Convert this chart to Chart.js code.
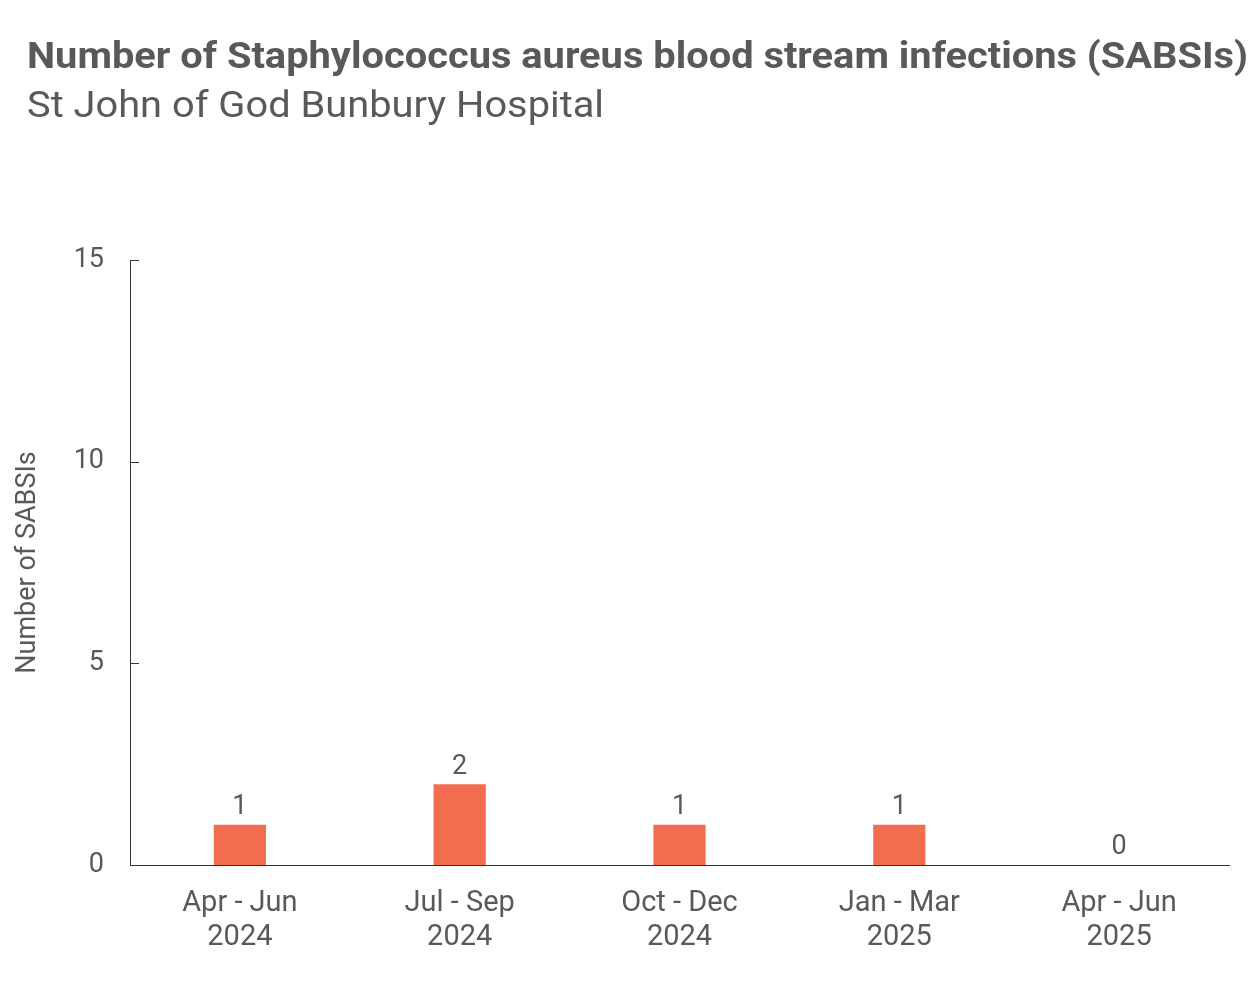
<!DOCTYPE html>
<html><head><meta charset="utf-8">
<script src="https://cdn.jsdelivr.net/npm/chart.js@4/dist/chart.umd.min.js"></script>
<style>html,body{margin:0;padding:0;background:#fff}#wrap{width:1260px;height:981px}</style>
</head><body><div id="wrap"><canvas id="c" width="1260" height="981"></canvas></div>
<script>
const categories = [["Apr - Jun","2024"],["Jul - Sep","2024"],["Oct - Dec","2024"],["Jan - Mar","2025"],["Apr - Jun","2025"]];
const sabsis = [1, 2, 1, 1, 0];
const yTicks = [0, 5, 10, 15];
const titleText = "Number of Staphylococcus aureus blood stream infections (SABSIs)";
const subtitleText = "St John of God Bunbury Hospital";
const yAxisTitle = "Number of SABSIs";

const GREY = '#595959';
const FONT = "Roboto, 'Noto Sans', sans-serif";

function fitText(ctx, text, x, y, targetWidth) {
  const w = ctx.measureText(text).width;
  const sx = targetWidth / w;
  ctx.save();
  ctx.translate(x, y);
  ctx.scale(sx, 1);
  ctx.fillText(text, 0, 0);
  ctx.restore();
}

const headerPlugin = {
  id: 'header',
  afterDraw(chart) {
    const ctx = chart.ctx;
    ctx.save();
    ctx.fillStyle = GREY;
    ctx.textBaseline = 'alphabetic';
    ctx.textAlign = 'left';
    ctx.font = "bold 36px " + FONT;
    fitText(ctx, titleText, 27, 68, 1221);
    ctx.font = "37px " + FONT;
    fitText(ctx, subtitleText, 27, 117, 577);
    ctx.restore();
  }
};

const innerTicks = {
  id: 'innerTicks',
  afterDatasetsDraw(chart) {
    const ctx = chart.ctx, y = chart.scales.y, x0 = chart.chartArea.left;
    ctx.save();
    ctx.strokeStyle = '#333';
    ctx.lineWidth = 1;
    y.ticks.forEach(t => {
      const py = Math.round(y.getPixelForValue(t.value)) + 0.5;
      ctx.beginPath(); ctx.moveTo(x0, py); ctx.lineTo(x0 + 9, py); ctx.stroke();
    });
    ctx.restore();
  }
};

const valueLabels = {
  id: 'valueLabels',
  afterDatasetsDraw(chart) {
    const ctx = chart.ctx;
    const meta = chart.getDatasetMeta(0);
    ctx.save();
    ctx.fillStyle = GREY;
    ctx.font = "27px " + FONT;
    ctx.textAlign = 'center';
    ctx.textBaseline = 'bottom';
    meta.data.forEach((bar, i) => {
      ctx.fillText(String(sabsis[i]), bar.x, bar.y - 4);
    });
    ctx.restore();
  }
};

new Chart(document.getElementById('c'), {
  type: 'bar',
  data: {
    labels: categories,
    datasets: [{
      data: sabsis,
      backgroundColor: '#F26C4F',
      borderWidth: 0,
      barPercentage: 0.95,
      categoryPercentage: 0.25
    }]
  },
  options: {
    responsive: false,
    animation: false,
    devicePixelRatio: 1,
    layout: { padding: { left: 12, top: 260, right: 31, bottom: 0 } },
    plugins: { legend: { display: false }, tooltip: { enabled: false } },
    scales: {
      x: {
        grid: { display: false, drawTicks: false },
        border: { color: '#333', width: 1 },
        ticks: { color: GREY, font: { size: 29, family: FONT, lineHeight: 1.2 }, padding: 21, maxRotation: 0 },
        afterFit(s) { s.height = 116; }
      },
      y: {
        min: 0, max: 15,
        afterBuildTicks(s) { s.ticks = yTicks.map(v => ({ value: v })); },
        grid: { display: false, drawTicks: false },
        border: { color: '#333', width: 1 },
        ticks: { color: GREY, font: { size: 27, family: FONT }, padding: 26 },
        title: { display: true, text: yAxisTitle, color: GREY, font: { size: 27, family: FONT }, padding: 0 },
        afterFit(s) { s.width = 118; }
      }
    }
  },
  plugins: [headerPlugin, innerTicks, valueLabels]
});
</script>
</body></html>
